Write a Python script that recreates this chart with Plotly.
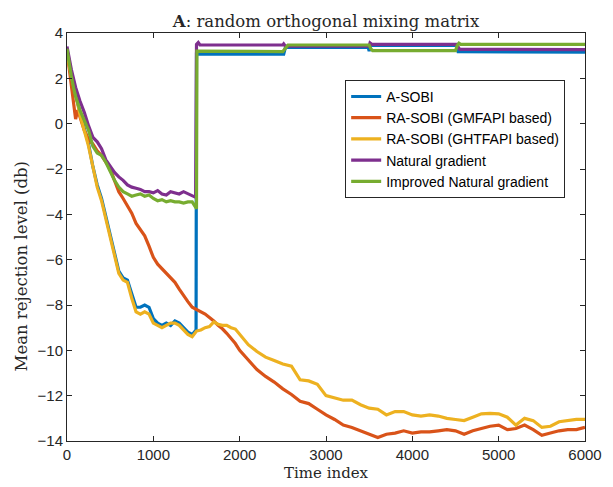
import plotly.graph_objects as go

# ---------------- data ----------------
series_names = ["A-SOBI", "RA-SOBI (GMFAPI based)", "RA-SOBI (GHTFAPI based)",
                "Natural gradient", "Improved Natural gradient"]
colors = ["#0072BD", "#D95319", "#EDB120", "#7E2F8E", "#77AC30"]

x_ticks = [0, 1000, 2000, 3000, 4000, 5000, 6000]
y_ticks = [4, 2, 0, -2, -4, -6, -8, -10, -12, -14]

early_x = [0, 25, 50, 100, 150, 200, 250, 300, 350, 400, 450, 500, 550, 600, 650,
           700, 750, 800, 850, 900, 950, 1000, 1050, 1100, 1150, 1200, 1250, 1300,
           1350, 1400, 1450]
late_x = [1500, 1550, 1600, 1650, 1700, 1750, 1800, 1850, 1900, 1950, 2000,
          2100, 2200, 2300, 2400, 2500, 2600, 2700, 2800, 2900, 3000, 3100, 3200,
          3300, 3400, 3500, 3600, 3700, 3800, 3900, 4000, 4100, 4200, 4300, 4400,
          4500, 4600, 4700, 4800, 4900, 5000, 5100, 5200, 5300, 5400, 5500, 5600,
          5700, 5800, 5900, 6000]

# A-SOBI
asobi_x = early_x + [1495, 1500, 2510, 2530, 3490, 3500, 3515, 4510, 4530, 6000]
asobi_y = [3.2, 2.7, 2.2, 1.3, 0.5, -0.2, -0.9, -1.9, -2.7, -3.3, -4.1, -5.0, -5.7,
           -6.5, -6.8, -6.9, -7.5, -8.1, -8.1, -8.0, -8.1, -8.6, -8.8, -8.9, -8.8,
           -8.9, -8.7, -8.8, -9.0, -9.2, -9.3,
           -9.1, 3.07, 3.07, 3.37, 3.37, 3.2, 3.45, 3.45, 3.18, 3.15]

# RA-SOBI (GMFAPI based)
gmf_x = [0, 25, 50, 75, 100, 125, 150, 200, 250, 300, 350, 400, 450, 500, 550, 600,
         650, 700, 750, 800, 850, 900, 950, 1000, 1050, 1100, 1150, 1200, 1250, 1300,
         1350, 1400, 1450] + late_x
gmf_y = [3.2, 2.4, 1.8, 1.0, 0.2, 0.6, 0.3, -0.3, -0.7, -0.9, -1.2, -1.4, -1.7,
         -2.0, -2.5, -3.0, -3.3, -3.6, -3.95, -4.4, -4.7, -4.95, -5.4, -5.9, -6.2,
         -6.4, -6.6, -6.8, -7.0, -7.3, -7.6, -7.85, -8.1,
         -8.2, -8.3, -8.4, -8.55, -8.7, -8.9, -9.05, -9.25, -9.45, -9.7, -10.0,
         -10.4, -10.85, -11.15, -11.4, -11.7, -11.95, -12.25, -12.35, -12.6, -12.85,
         -13.05, -13.3, -13.4, -13.55, -13.7, -13.85, -13.7, -13.65, -13.55, -13.65,
         -13.6, -13.6, -13.55, -13.5, -13.55, -13.7, -13.55, -13.45, -13.35, -13.3,
         -13.5, -13.45, -13.3, -13.5, -13.75, -13.65, -13.55, -13.5, -13.5, -13.4]

# RA-SOBI (GHTFAPI based)
ght_x = early_x + late_x
ght_y = [3.1, 2.6, 2.1, 1.3, 0.4, -0.3, -1.0, -1.9, -2.8, -3.4, -4.2, -5.0, -5.8,
         -6.6, -6.9, -7.0, -7.7, -8.3, -8.4, -8.3, -8.4, -8.8, -8.9, -9.0, -8.9,
         -8.8, -8.8, -8.9, -9.1, -9.3, -9.4,
         -9.15, -9.1, -9.0, -8.95, -8.75, -8.85, -8.9, -8.9, -9.0, -9.06, -9.3,
         -9.75, -10.05, -10.3, -10.45, -10.6, -10.7, -11.3, -11.35, -11.5, -12.0,
         -12.1, -12.2, -12.2, -12.4, -12.55, -12.6, -12.85, -12.7, -12.7, -12.85,
         -12.9, -12.85, -12.9, -13.0, -13.05, -13.1, -12.95, -12.8, -12.78, -12.8,
         -12.95, -13.3, -13.0, -13.1, -13.4, -13.35, -13.15, -13.1, -13.05, -13.05]

# Natural gradient
ng_x = [0, 25, 50, 75, 100, 150, 200, 250, 300, 350, 400, 450, 500, 550, 600, 650,
        700, 750, 800, 850, 900, 950, 1000, 1050, 1100, 1150, 1200, 1250, 1300, 1350,
        1400, 1450, 1490, 1500, 1520, 1540, 2500, 2510, 2530, 3500, 3510, 3530,
        4520, 4535, 4550, 6000]
ng_y = [3.4, 2.8, 2.4, 2.0, 1.6, 1.0, 0.5, -0.1, -0.6, -0.8, -1.1, -1.6, -1.9,
        -2.15, -2.35, -2.5, -2.7, -2.8, -2.85, -2.9, -3.0, -3.0, -3.05, -2.95, -3.1,
        -3.15, -3.0, -3.05, -3.1, -3.0, -3.1, -3.2, -3.25, 3.5, 3.58, 3.47, 3.47,
        3.52, 3.42, 3.42, 3.56, 3.5, 3.5, 3.35, 3.28, 3.27]

# Improved Natural gradient
ing_x = [0, 25, 50, 75, 100, 150, 200, 250, 300, 350, 400, 450, 500, 550, 600, 650,
         700, 750, 800, 850, 900, 950, 1000, 1050, 1100, 1150, 1200, 1250, 1300, 1350,
         1400, 1450, 1500, 1505, 2500, 2530, 2560, 3500, 3520, 3540, 4500, 4520,
         4540, 4560, 6000]
ing_y = [3.3, 2.6, 2.1, 1.6, 1.2, 0.6, 0.1, -0.3, -1.0, -1.3, -1.4, -1.7, -2.1,
         -2.5, -2.8, -3.0, -3.1, -3.2, -3.15, -3.1, -3.2, -3.15, -3.3, -3.4, -3.35,
         -3.45, -3.4, -3.45, -3.45, -3.5, -3.45, -3.45, -3.75, 3.2, 3.18, 3.3, 3.47,
         3.47, 3.3, 3.22, 3.22, 3.45, 3.55, 3.5, 3.5]

xs = [asobi_x, gmf_x, ght_x, ng_x, ing_x]
ys = [asobi_y, gmf_y, ght_y, ng_y, ing_y]
for a, b in zip(xs, ys):
    assert len(a) == len(b), (len(a), len(b))

# ---------------- figure ----------------
SERIF = "DejaVu Serif, Liberation Serif, serif"
SANS = "Liberation Sans, Arial, sans-serif"
INK = "#262626"

fig = go.Figure()
for name, c, x, y in zip(series_names, colors, xs, ys):
    fig.add_trace(go.Scatter(x=x, y=y, mode="lines", name=name,
                             line=dict(color=c, width=3.2)))

axis_common = dict(showline=True, mirror="ticks", linecolor=INK, linewidth=1,
                   ticks="inside", ticklen=5, tickcolor=INK, showgrid=False,
                   zeroline=False,
                   tickfont=dict(family=SANS, size=15, color=INK))

# page body adds an 8px offset; sizes/margins compensate for it
fig.update_layout(
    width=605, height=479,
    paper_bgcolor="white", plot_bgcolor="white",
    margin=dict(l=59, r=28, t=25, b=46, autoexpand=False),
    title=dict(text="<b>A</b>: random orthogonal mixing matrix",
               x=0.5, xref="paper", xanchor="center",
               y=0.985, yref="container", yanchor="top",
               font=dict(family=SERIF, size=16.5, color=INK)),
    xaxis=dict(range=[0, 6000], tickvals=x_ticks, **axis_common),
    yaxis=dict(range=[-14, 4], tickvals=y_ticks, **axis_common),
    legend=dict(x=0.537, y=0.885, xanchor="left", yanchor="top",
                bordercolor=INK, borderwidth=1, bgcolor="white",
                font=dict(family=SANS, size=14, color="black"),
                tracegroupgap=0, itemwidth=30),
    showlegend=True,
    annotations=[
        dict(text="Time index", xref="paper", yref="paper", x=0.5, y=-0.078,
             xanchor="center", yanchor="middle", showarrow=False,
             font=dict(family=SERIF, size=15, color=INK)),
        dict(text="Mean rejection level (db)", xref="paper", yref="paper",
             x=-0.087, y=0.43, xanchor="center", yanchor="middle", textangle=-90,
             showarrow=False, font=dict(family=SERIF, size=16.5, color=INK)),
    ],
)

fig.write_html("out.html")
